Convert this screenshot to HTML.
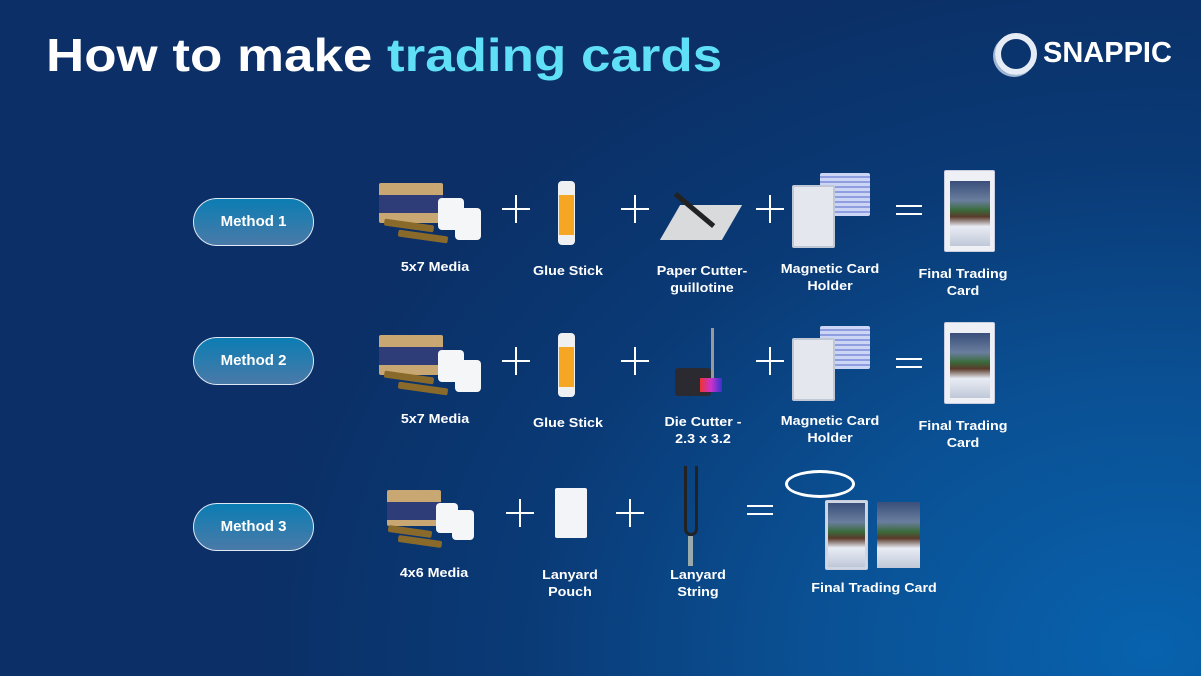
<!DOCTYPE html>
<html><head><meta charset="utf-8"><style>
*{margin:0;padding:0;box-sizing:border-box}
body{width:1201px;height:676px;overflow:hidden;font-family:"Liberation Sans",sans-serif;}
#c{position:relative;width:1201px;height:676px;background:radial-gradient(ellipse 900px 700px at 1150px 650px,#0862ad 0%,#0a4f92 40%,#0a3a76 70%,#0b2f66 100%);}
.a{position:absolute}
.t{position:absolute;color:#fff;font-weight:bold;font-size:13px;text-align:center;line-height:17px;transform:translateX(-50%) scaleX(1.1);white-space:nowrap}
.btn{position:absolute;left:193px;width:121px;height:48px;border:1.5px solid #dfe8f5;border-radius:24px;background:linear-gradient(180deg,#0b7db3,#4a7aa8);color:#fff;font-weight:bold;font-size:15px;text-align:center;line-height:45px}
.pl{position:absolute;width:28px;height:28px}
.pl:before{content:"";position:absolute;left:0;top:13px;width:28px;height:2px;background:#fff}
.pl:after{content:"";position:absolute;left:13px;top:0;width:2px;height:28px;background:#fff}
.eq{position:absolute;width:26px;height:10px;border-top:2px solid #fff;border-bottom:2px solid #fff}
.box{position:absolute;background:#c9a772;border-radius:2px}
.box i{position:absolute;left:0;top:12px;width:100%;height:18px;background:#2e3c78}
.roll{position:absolute;width:26px;height:32px;background:#f4f6f8;border-radius:4px}
.ribbon{position:absolute;height:7px;background:#8a6a2a;border-radius:2px;transform:rotate(8deg)}
.glue{position:absolute;width:17px;height:64px;background:#eef0f2;border-radius:4px}
.glue i{position:absolute;left:1px;top:14px;width:15px;height:40px;background:#f5a623}
.card{position:absolute;background:#eef0f6;border:1px solid #c8cde0;border-radius:2px}
.photo{position:absolute;background:linear-gradient(180deg,#3a4f7a 0%,#6a7e9e 30%,#3a6a3a 45%,#5a3a2a 55%,#e8ecf4 70%,#c0c8d8 100%)}
.holder{position:absolute;background:#e4e8ee;border:2px solid #c0c8d6;border-radius:2px}
.stack{position:absolute;background:repeating-linear-gradient(180deg,#cdd5f4 0 3px,#8e9ee0 3px 5px);border-radius:2px}
</style></head><body><div id="c">
<div class="a" style="left:46px;top:28px;font-size:46px;font-weight:bold;color:#fff;transform:scaleX(1.15);transform-origin:0 0;white-space:nowrap">How to make <span style="color:#5fe0f6">trading cards</span></div>
<div class="a" style="left:995px;top:33px;width:42px;height:42px;border-radius:50%;border:6px solid #e6ecf5;box-shadow:-2px 2px 0 #9fb6d4"></div>
<div class="a" style="left:1043px;top:37px;font-size:29px;font-weight:bold;color:#fff">SNAPPIC</div>

<div class="btn" style="top:198px">Method 1</div>
<div class="btn" style="top:337px">Method 2</div>
<div class="btn" style="top:503px">Method 3</div>

<!-- Row 1 -->
<div class="box" style="left:379px;top:183px;width:64px;height:40px"><i></i></div>
<div class="roll" style="left:438px;top:198px"></div><div class="roll" style="left:455px;top:208px"></div>
<div class="ribbon" style="left:384px;top:222px;width:50px"></div><div class="ribbon" style="left:398px;top:233px;width:50px"></div>
<div class="pl" style="left:502px;top:195px"></div>
<div class="glue" style="left:558px;top:181px"><i></i></div>
<div class="pl" style="left:621px;top:195px"></div>
<div class="a" style="left:670px;top:205px;width:62px;height:35px;background:#d8dadc;transform:skewX(-30deg)"></div>
<div class="a" style="left:692px;top:185px;width:5px;height:50px;background:#222;transform:rotate(-50deg)"></div>
<div class="pl" style="left:756px;top:195px"></div>
<div class="stack" style="left:820px;top:173px;width:50px;height:43px"></div>
<div class="holder" style="left:792px;top:185px;width:43px;height:63px"></div>
<div class="eq" style="left:896px;top:205px"></div>
<div class="card" style="left:944px;top:170px;width:51px;height:82px"><div class="photo" style="left:5px;top:10px;width:40px;height:65px"></div></div>
<div class="t" style="left:435px;top:258px">5x7 Media</div>
<div class="t" style="left:568px;top:262px">Glue Stick</div>
<div class="t" style="left:702px;top:262px">Paper Cutter-<br>guillotine</div>
<div class="t" style="left:830px;top:260px">Magnetic Card<br>Holder</div>
<div class="t" style="left:963px;top:265px">Final Trading<br>Card</div>

<!-- Row 2 -->
<div class="box" style="left:379px;top:335px;width:64px;height:40px"><i></i></div>
<div class="roll" style="left:438px;top:350px"></div><div class="roll" style="left:455px;top:360px"></div>
<div class="ribbon" style="left:384px;top:374px;width:50px"></div><div class="ribbon" style="left:398px;top:385px;width:50px"></div>
<div class="pl" style="left:502px;top:347px"></div>
<div class="glue" style="left:558px;top:333px"><i></i></div>
<div class="pl" style="left:621px;top:347px"></div>
<div class="a" style="left:675px;top:368px;width:36px;height:28px;background:#2a2a30;border-radius:3px"></div>
<div class="a" style="left:700px;top:378px;width:22px;height:14px;background:linear-gradient(90deg,#e33,#c3c,#33c)"></div>
<div class="a" style="left:711px;top:328px;width:3px;height:50px;background:#999"></div>
<div class="pl" style="left:756px;top:347px"></div>
<div class="stack" style="left:820px;top:326px;width:50px;height:43px"></div>
<div class="holder" style="left:792px;top:338px;width:43px;height:63px"></div>
<div class="eq" style="left:896px;top:358px"></div>
<div class="card" style="left:944px;top:322px;width:51px;height:82px"><div class="photo" style="left:5px;top:10px;width:40px;height:65px"></div></div>
<div class="t" style="left:435px;top:410px">5x7 Media</div>
<div class="t" style="left:568px;top:414px">Glue Stick</div>
<div class="t" style="left:703px;top:413px">Die Cutter -<br>2.3 x 3.2</div>
<div class="t" style="left:830px;top:412px">Magnetic Card<br>Holder</div>
<div class="t" style="left:963px;top:417px">Final Trading<br>Card</div>

<!-- Row 3 -->
<div class="box" style="left:387px;top:490px;width:54px;height:36px"><i></i></div>
<div class="roll" style="left:436px;top:503px;width:22px;height:30px"></div><div class="roll" style="left:452px;top:510px;width:22px;height:30px"></div>
<div class="ribbon" style="left:388px;top:528px;width:44px"></div><div class="ribbon" style="left:398px;top:538px;width:44px"></div>
<div class="pl" style="left:506px;top:499px"></div>
<div class="a" style="left:555px;top:488px;width:32px;height:50px;background:#f2f4f7;border-radius:2px"></div>
<div class="pl" style="left:616px;top:499px"></div>
<div class="a" style="left:684px;top:466px;width:14px;height:70px;border:3px solid #222;border-top:none;border-radius:0 0 8px 8px"></div>
<div class="a" style="left:688px;top:536px;width:5px;height:30px;background:#9aa"></div>
<div class="eq" style="left:747px;top:505px"></div>
<div class="a" style="left:785px;top:470px;width:70px;height:28px;border:3px solid #fff;border-radius:50%"></div>
<div class="card" style="left:825px;top:500px;width:43px;height:70px;background:#cfd6e4"><div class="photo" style="left:2px;top:2px;width:37px;height:64px"></div></div>
<div class="photo" style="left:877px;top:502px;width:43px;height:66px"></div>
<div class="t" style="left:434px;top:564px">4x6 Media</div>
<div class="t" style="left:570px;top:566px">Lanyard<br>Pouch</div>
<div class="t" style="left:698px;top:566px">Lanyard<br>String</div>
<div class="t" style="left:874px;top:579px">Final Trading Card</div>
</div></body></html>
